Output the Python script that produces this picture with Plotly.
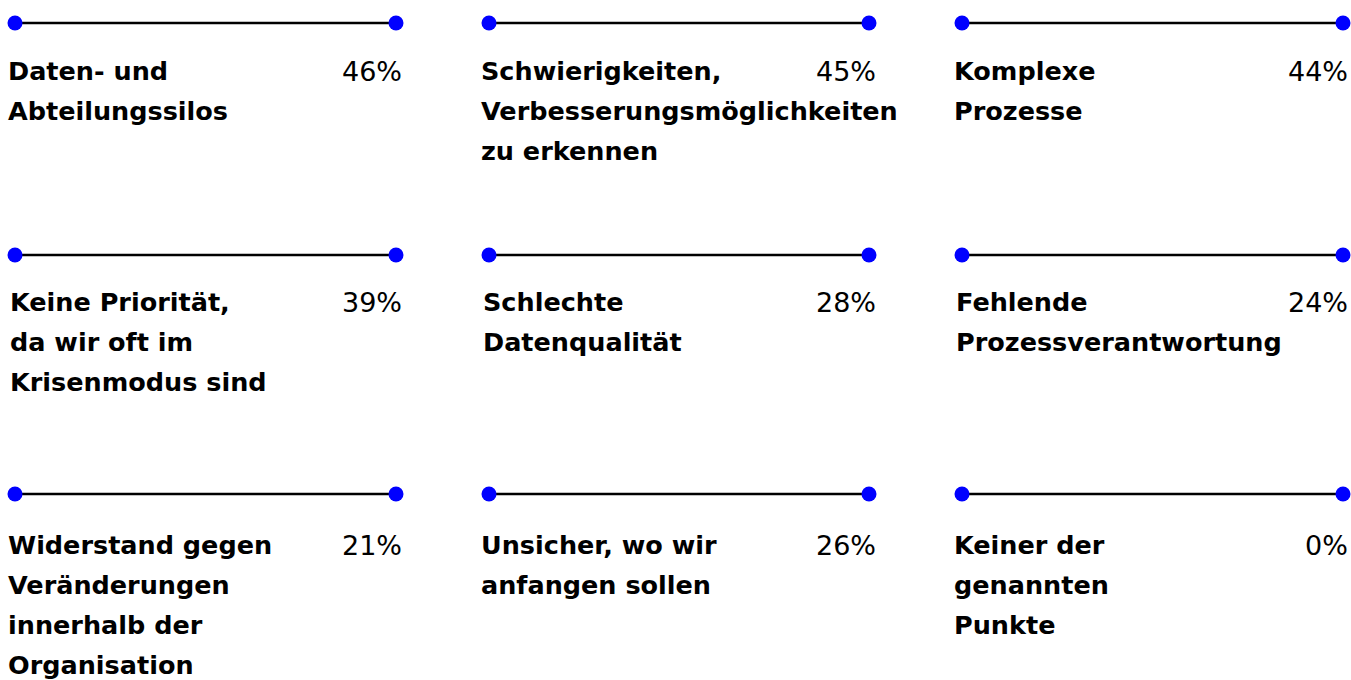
import plotly.graph_objects as go

# ---- data ----
categories = [
    "Daten- und\nAbteilungssilos",
    "Schwierigkeiten,\nVerbesserungsmöglichkeiten\nzu erkennen",
    "Komplexe\nProzesse",
    "Keine Priorität,\nda wir oft im\nKrisenmodus sind",
    "Schlechte\nDatenqualität",
    "Fehlende\nProzessverantwortung",
    "Widerstand gegen\nVeränderungen\ninnerhalb der\nOrganisation",
    "Unsicher, wo wir\nanfangen sollen",
    "Keiner der\ngenannten\nPunkte",
]
values = [46, 45, 44, 39, 28, 24, 21, 26, 0]

# ---- layout (pixels) ----
W, H = 1351, 680
col_line = [(15, 396), (489, 869), (962, 1343)]
col_text = [6, 479, 952]
col_pct = [404, 878, 1350]
row_line = [23, 255, 494]
row_text = [71, 302, 545]
row_text_dx = [0, 2, 0]
line_gap = 40
LABEL_FONT = "DejaVu Sans"
BLUE = "#0000ff"

fig = go.Figure()
annotations = []
for i, (cat, val) in enumerate(zip(categories, values)):
    r, c = divmod(i, 3)
    x0, x1 = col_line[c]
    y = row_line[r]
    fig.add_trace(go.Scatter(
        x=[x0, x1], y=[y, y], mode="lines",
        line=dict(color="#000000", width=2.5),
        hoverinfo="skip", showlegend=False))
    fig.add_trace(go.Scatter(
        x=[x0, x1], y=[y, y], mode="markers",
        marker=dict(color=BLUE, size=15, line=dict(width=0)),
        hoverinfo="skip", showlegend=False))
    for k, ln in enumerate(cat.split("\n")):
        annotations.append(dict(
            x=col_text[c] + row_text_dx[r], y=row_text[r] + k * line_gap,
            xref="x", yref="y",
            text=ln, showarrow=False, xanchor="left", yanchor="middle",
            font=dict(family=LABEL_FONT, size=25.5, color="#000000", weight=700)))
    annotations.append(dict(
        x=col_pct[c], y=row_text[r], xref="x", yref="y",
        text=f"{val}%", showarrow=False, xanchor="right", yanchor="middle",
        font=dict(family=LABEL_FONT, size=27, color="#000000", weight=400)))

fig.update_layout(
    width=W, height=H,
    margin=dict(l=0, r=0, t=0, b=0),
    paper_bgcolor="white", plot_bgcolor="white",
    xaxis=dict(range=[0, W], visible=False, fixedrange=True),
    yaxis=dict(range=[H, 0], visible=False, fixedrange=True),
    annotations=annotations,
)

fig.write_html("out.html", config={"displayModeBar": False},
               post_script="document.body.style.margin='0';document.body.style.overflow='hidden';")
